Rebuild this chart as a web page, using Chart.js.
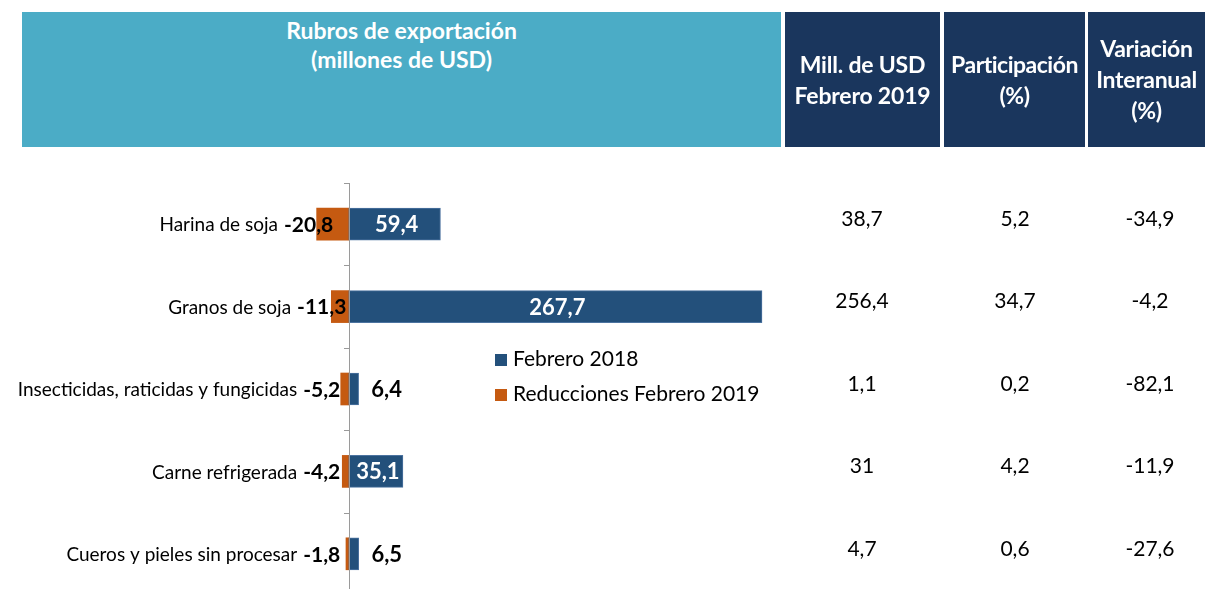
<!DOCTYPE html>
<html>
<head>
<meta charset="utf-8">
<script src="https://cdn.jsdelivr.net/npm/chart.js@4.4.0/dist/chart.umd.min.js"></script>
<style>
  body { margin: 0; width: 1205px; height: 589px; overflow: hidden; background: #fff; position: relative; font-family: Lato, sans-serif; }
  #myChart { position: absolute; left: 0; top: 0; }
  .hd { position: absolute; top: 12px; height: 135px; color: #fff; font-weight: bold; text-align: center; box-sizing: border-box; display: flex; flex-direction: column; justify-content: center; font-size: 23px; line-height: 31px; white-space: nowrap; }
  #h0 { left: 22px; width: 759px; background: #4BACC6; justify-content: flex-start; padding-top: 4px; line-height: 29px; font-size: 23px; }
  #h1 { left: 785px; width: 155px; background: #1A365D; letter-spacing: -0.2px; }
  #h2 { left: 944px; width: 141px; background: #1A365D; letter-spacing: -0.5px; }
  #h3 { left: 1088px; width: 117px; background: #1A365D; letter-spacing: -0.3px; }
</style>
</head>
<body>
<canvas id="myChart" width="1205" height="600"></canvas>
<div class="hd" id="h0"><div>Rubros de exportación</div><div>(millones de USD)</div></div>
<div class="hd" id="h1"><div>Mill. de USD</div><div>Febrero 2019</div></div>
<div class="hd" id="h2"><div>Participación</div><div>(%)</div></div>
<div class="hd" id="h3"><div>Variación</div><div>Interanual</div><div>(%)</div></div>
<script>
var categories = ['Harina de soja', 'Granos de soja', 'Insecticidas, raticidas y fungicidas', 'Carne refrigerada', 'Cueros y pieles sin procesar'];
var febrero2018 = [59.4, 267.7, 6.4, 35.1, 6.5];
var reducciones2019 = [-20.8, -11.3, -5.2, -4.2, -1.8];
// table columns on the right
var millUsd2019 = [38.7, 256.4, 1.1, 31, 4.7];
var participacion = [5.2, 34.7, 0.2, 4.2, 0.6];
var variacion = [-34.9, -4.2, -82.1, -11.9, -27.6];

function fmt(v) { return String(v).replace('.', ','); }

var ctx = document.getElementById('myChart').getContext('2d');

var extras = {
  id: 'extras',
  afterDatasetsDraw: function (chart) {
    var c = chart.ctx, xs = chart.scales.x, ys = chart.scales.y, area = chart.chartArea;
    var x0 = xs.getPixelForValue(0);
    var n = categories.length;
    var step = (area.bottom - area.top) / n;
    c.save();
    // axis line and tick marks
    c.strokeStyle = '#9a9a9a';
    c.lineWidth = 1;
    c.beginPath();
    c.moveTo(Math.round(x0) + 0.5, area.top);
    c.lineTo(Math.round(x0) + 0.5, area.bottom);
    for (var i = 0; i <= n; i++) {
      var ty = Math.round(area.top + i * step) + 0.5;
      c.moveTo(Math.round(x0) - 5, ty);
      c.lineTo(Math.round(x0) + 0.5, ty);
    }
    c.stroke();

    c.textBaseline = 'middle';
    for (var i = 0; i < n; i++) {
      var y = ys.getPixelForValue(i);
      // negative labels
      var neg = reducciones2019[i];
      var negEnd = xs.getPixelForValue(neg);
      c.font = 'bold 21px Lato';
      c.fillStyle = '#000';
      c.textAlign = 'center';
      var nt = fmt(neg);
      var ncx = Math.min(x0 - 27, negEnd - 8);
      c.fillText(nt, ncx, y + 1);
      var nw = c.measureText(nt).width;
      // category names
      c.font = '19px Lato';
      c.textAlign = 'right';
      c.fillText(categories[i], ncx - nw / 2 - 6, y + 1);
      // positive labels
      var pos = febrero2018[i];
      var posEnd = xs.getPixelForValue(pos);
      c.font = 'bold 22px Lato';
      var pt = fmt(pos);
      var pw = c.measureText(pt).width;
      c.textAlign = 'center';
      if (posEnd - x0 > pw + 10) {
        c.fillStyle = '#fff';
        c.fillText(pt, (x0 + posEnd) / 2 + 2, y + 1);
      } else {
        c.fillStyle = '#000';
        c.fillText(pt, posEnd + 28, y + 1);
      }
      // table values
      c.font = '21px Lato';
      c.fillStyle = '#000';
      c.fillText(fmt(millUsd2019[i]), 862, y - 5);
      c.fillText(fmt(participacion[i]), 1015, y - 5);
      c.fillText(fmt(variacion[i]), 1150, y - 5);
    }

    // legend
    var ly = [359, 394];
    c.font = '21px Lato';
    c.textAlign = 'left';
    chart.data.datasets.forEach(function (ds, k) {
      c.fillStyle = ds.backgroundColor;
      c.fillRect(495, ly[k] - 5, 12, 12);
      c.fillStyle = '#000';
      c.fillText(ds.label, 513, ly[k]);
    });
    c.restore();
  }
};

var options = {
  type: 'bar',
  data: {
    labels: categories,
    datasets: [
      {
        label: 'Febrero 2018',
        data: febrero2018,
        backgroundColor: '#23507B',
        borderColor: '#4C73A0',
        borderWidth: 1,
        borderSkipped: false,
        barThickness: 32
      },
      {
        label: 'Reducciones Febrero 2019',
        data: reducciones2019,
        backgroundColor: '#C55A11',
        borderWidth: 0,
        barThickness: 32
      }
    ]
  },
  options: {
    indexAxis: 'y',
    responsive: false,
    animation: false,
    events: [],
    layout: { padding: { left: 287, right: 424, top: 183, bottom: 5 } },
    plugins: { legend: { display: false }, tooltip: { enabled: false } },
    scales: {
      x: { stacked: true, min: -40, max: 280, display: false },
      y: { stacked: true, display: false }
    }
  },
  plugins: [extras]
};
new Chart(ctx, options);
</script>
</body>
</html>
